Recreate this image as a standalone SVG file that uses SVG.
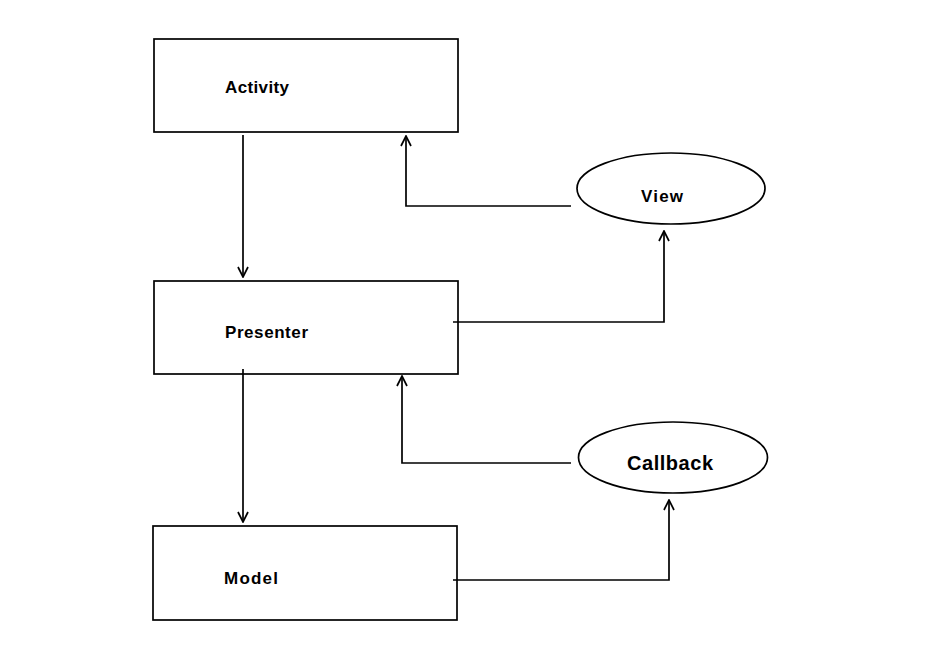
<svg xmlns="http://www.w3.org/2000/svg" width="926" height="658" viewBox="0 0 926 658">
<style>
.box{fill:#fff;stroke:#000;stroke-width:1.7}
.lbl{font-family:"Liberation Sans",Arial,sans-serif;font-weight:bold;font-size:17px;fill:#000}
.big{font-size:20px}
.con{fill:none;stroke:#000;stroke-width:1.7}
</style>
<defs>
<marker id="ah" viewBox="0 0 12 12" refX="11" refY="6" markerWidth="12" markerHeight="12" markerUnits="userSpaceOnUse" orient="auto">
<path d="M1,1 L11,6 L1,11" fill="none" stroke="#000" stroke-width="1.7"/>
</marker>
</defs>
<rect width="926" height="658" fill="#fff"/>
<g id="activity"><rect class="box" x="154" y="39" width="304" height="93"/><text class="lbl" x="225" y="93" textLength="64">Activity</text></g>
<g id="presenter"><rect class="box" x="154" y="281" width="304" height="93"/><text class="lbl" x="225" y="338" textLength="83">Presenter</text></g>
<g id="model"><rect class="box" x="153" y="526" width="304" height="94"/><text class="lbl" x="224" y="584" textLength="54">Model</text></g>
<g id="view"><ellipse class="box" cx="671" cy="188.5" rx="94" ry="35.5"/><text class="lbl" x="641" y="202" textLength="42">View</text></g>
<g id="callback"><ellipse class="box" cx="673" cy="457.5" rx="94.5" ry="35.5"/><text class="lbl big" x="627" y="470" textLength="86">Callback</text></g>
<g id="connectors">
<path class="con" d="M243,135 V277" marker-end="url(#ah)"/>
<path class="con" d="M571,206 H406 V136" marker-end="url(#ah)"/>
<path class="con" d="M453,322 H664 V231" marker-end="url(#ah)"/>
<path class="con" d="M243,369 V522" marker-end="url(#ah)"/>
<path class="con" d="M571,463 H402 V376" marker-end="url(#ah)"/>
<path class="con" d="M453,580 H669 V500" marker-end="url(#ah)"/>
</g>
</svg>
